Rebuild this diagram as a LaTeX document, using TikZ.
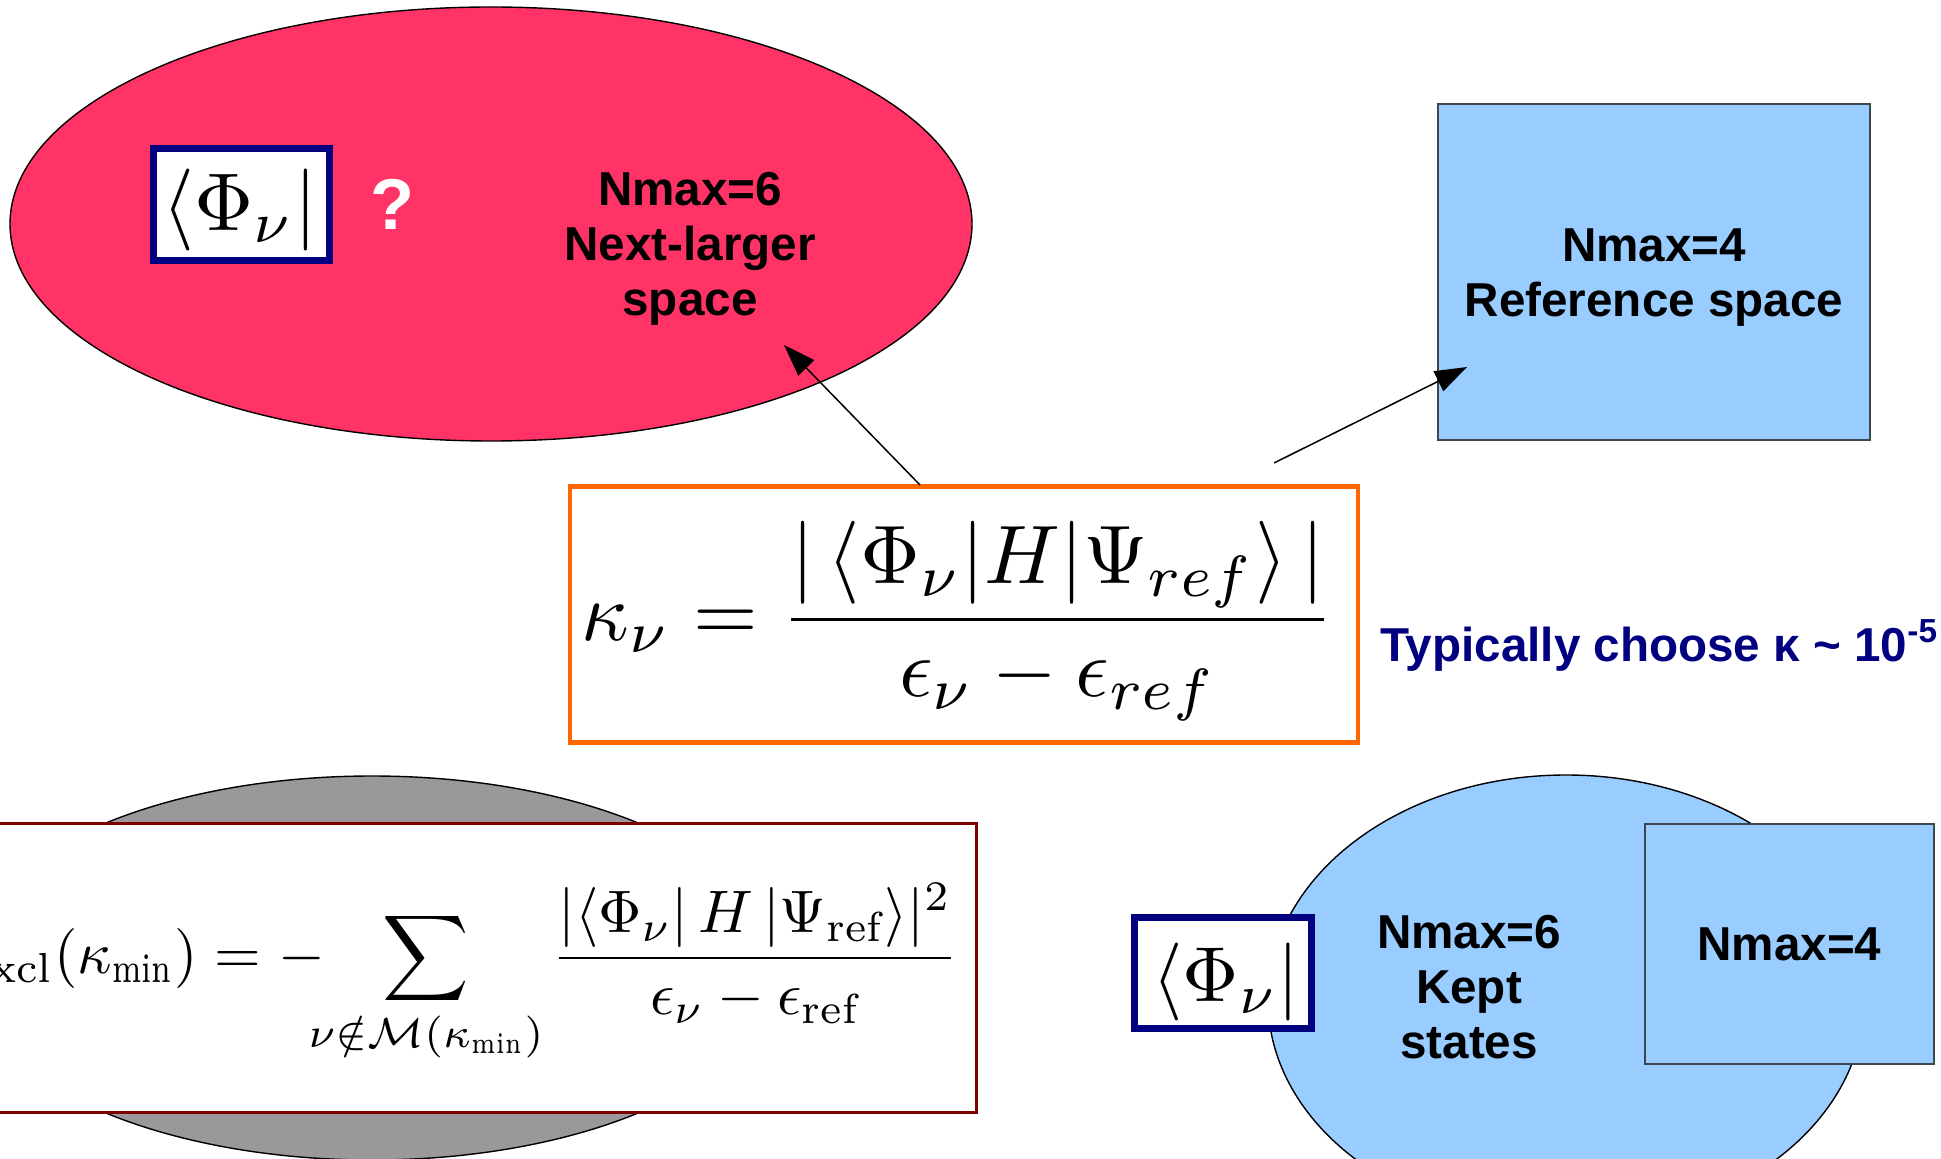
\documentclass[tikz,border=0pt]{standalone}
\usepackage{fontspec}
\setsansfont{Liberation Sans}
\usepackage{graphicx}
\usepackage{mathtools}
\usetikzlibrary{shapes.geometric,arrows.meta}

\definecolor{rose}{HTML}{FF3366}
\definecolor{sky}{HTML}{99CCFF}
\definecolor{edgegray}{HTML}{3C4650}
\definecolor{navyblue}{HTML}{000080}
\definecolor{tangerine}{HTML}{FF6600}
\definecolor{maroonred}{HTML}{800000}
\definecolor{midgray}{HTML}{999999}

% condensed "min" index, in the given math style
\newcommand{\narrowmin}[1]{\scalebox{0.75}[1]{$#1\mathrm{min}$}}

\begin{document}
\begin{tikzpicture}[x=0.5pt,y=-0.5pt,
  lbl/.style={font=\sffamily\bfseries\fontsize{23.8}{27.5}\selectfont, align=center, inner sep=0pt},
  region/.style={ellipse, draw=black, line width=0.7pt, inner sep=0pt},
  sqbox/.style={rectangle, draw=edgegray, line width=0.8pt, fill=sky, inner sep=0pt},
  brabox/.style={rectangle, draw=navyblue, line width=3.4pt, fill=white, inner sep=0pt},
  eqbox/.style={rectangle, fill=white, inner sep=0pt},
  formula/.style={inner sep=0pt},
  pointer/.style={draw=black, line width=0.75pt, -{Triangle[length=16pt,width=11pt]}}
]
\useasboundingbox (0,0) rectangle (1941,1159);
\fill[white] (0,0) rectangle (1941,1159);

% next-larger space
\node[region, fill=rose, minimum width=481pt, minimum height=217pt] (next) at (491,224) {};
\node[brabox, minimum width=88pt, minimum height=56pt] (braA) at (241.5,204.5) {};
\node[formula] (braAtxt) at (240,210) {\scalebox{4.1}{$\langle\Phi_\nu|$}};
\node[font=\sffamily\bfseries\fontsize{36}{40}\selectfont, text=white, anchor=base, inner sep=0pt] (qmark) at (392,230) {?};
\node[lbl, anchor=north] (nextlbl) at (690,172) {Nmax=6\\Next-larger\\space};

% reference space
\node[sqbox, minimum width=216pt, minimum height=168pt] (ref) at (1654,272) {};
\node[lbl, anchor=north] (reflbl) at (1654,228) {Nmax=4\\Reference space};

% importance measure
\node[eqbox, draw=tangerine, line width=2.1pt, minimum width=394pt, minimum height=128pt] (kapbox) at (964,614.5) {};
\node[formula, anchor=base west] (kap) at (581,640)
  {\scalebox{4.15}{$\displaystyle \kappa_\nu = \frac{|\,\langle\Phi_\nu|H|\Psi_{ref}\rangle\,|}{\epsilon_\nu-\epsilon_{ref}}$}};
\node[lbl, text=navyblue, anchor=base west] (typ) at (1380,661) {Typically choose κ \textasciitilde{} 10\textsuperscript{-5}};

% connectors
\coordinate (p1) at (920,485);
\coordinate (t1) at (784,345);
\coordinate (p2) at (1274,463);
\coordinate (t2) at (1467,367);
\draw[pointer] (p1) -- (t1);
\draw[pointer] (p2) -- (t2);

% excluded-state correction
\node[region, fill=midgray, minimum width=406pt, minimum height=192pt] (excl) at (372,968) {};
\node[eqbox, draw=maroonred, line width=1.5pt, minimum width=493.25pt, minimum height=144.5pt] (exclbox) at (483.25,968) {};
\node[formula, anchor=base east] (exclf) at (959,973)
  {\scalebox{3.0}{$\displaystyle E_{\mathrm{excl}}(\kappa_{\narrowmin{\scriptstyle}}) = -\hspace{8pt}\sum_{\mathclap{\nu\notin\mathcal{M}(\kappa_{\narrowmin{\scriptscriptstyle}})}}\hspace{12pt} \frac{|\langle\Phi_\nu|\,H\,|\Psi_{\mathrm{ref}}\rangle|^2}{\epsilon_\nu-\epsilon_{\mathrm{ref}}}$}};

% kept states
\node[region, fill=sky, minimum width=298pt, minimum height=225pt] (kept) at (1566,1000) {};
\node[brabox, minimum width=88.5pt, minimum height=55.5pt] (braB) at (1223,973) {};
\node[formula] (braBtxt) at (1226,982) {\scalebox{3.9}{$\langle\Phi_\nu|$}};
\node[sqbox, minimum width=144.5pt, minimum height=120pt, lbl] (inner) at (1789.5,944) {Nmax=4};
\node[lbl, anchor=north] (keptlbl) at (1469,915) {Nmax=6\\Kept\\states};
\end{tikzpicture}
\end{document}
